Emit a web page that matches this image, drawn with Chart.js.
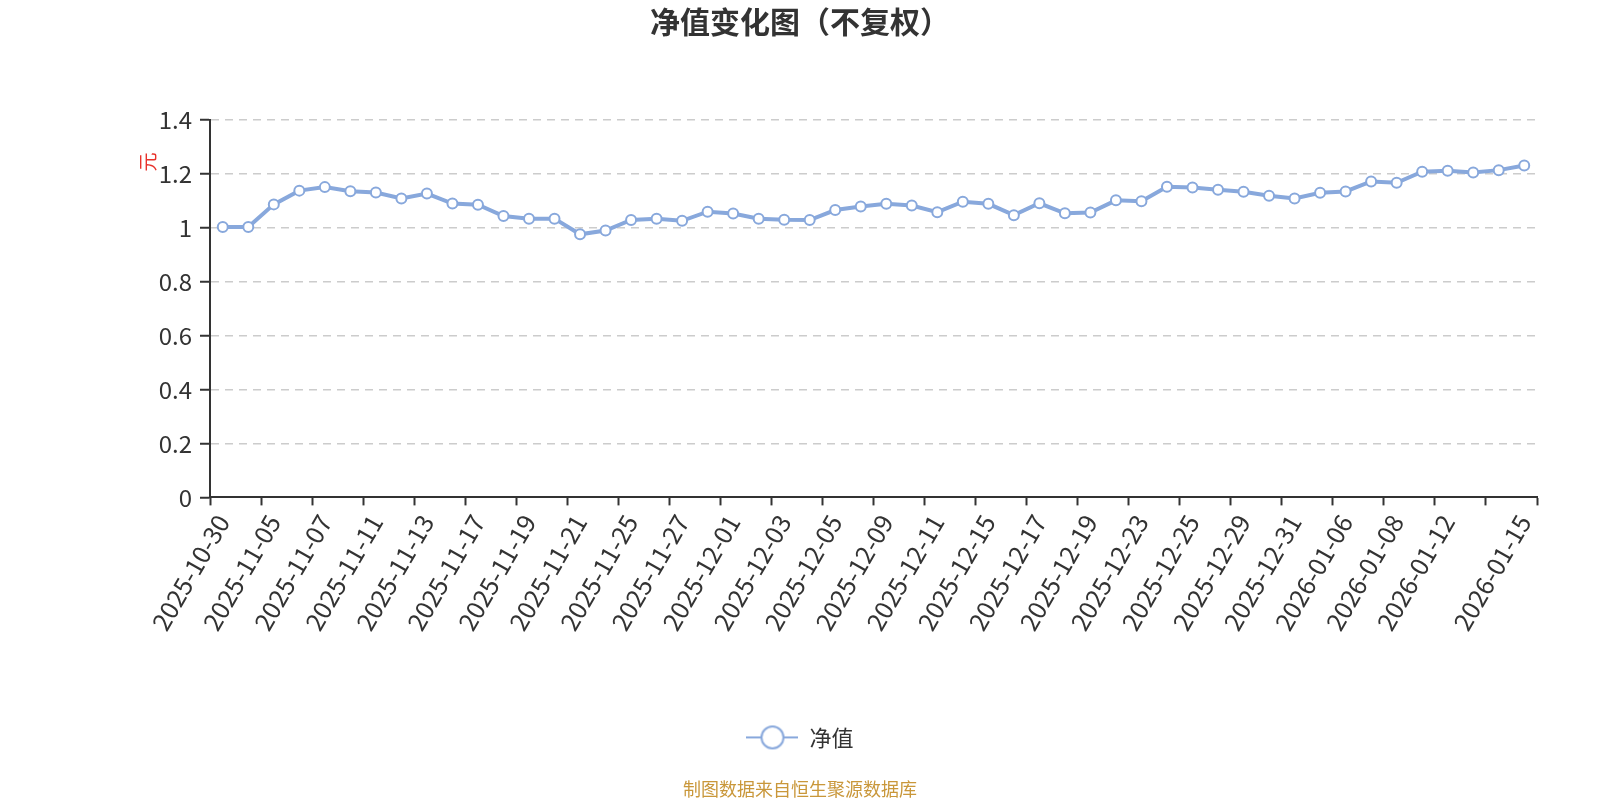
<!DOCTYPE html>
<html>
<head>
<meta charset="utf-8">
<script src="https://cdn.jsdelivr.net/npm/chart.js@4.4.1/dist/chart.umd.min.js"></script>
<style>
html, body { margin: 0; background: #fff; }
#wrap { width: 1600px; height: 800px; }
</style>
</head>
<body>
<div id="wrap"><canvas id="navChart"></canvas></div>
<script>
'use strict';

const dates = [
    '2025-10-30', '2025-10-31', '2025-11-05', '2025-11-06', '2025-11-07', '2025-11-10',
    '2025-11-11', '2025-11-12', '2025-11-13', '2025-11-14', '2025-11-17', '2025-11-18',
    '2025-11-19', '2025-11-20', '2025-11-21', '2025-11-24', '2025-11-25', '2025-11-26',
    '2025-11-27', '2025-11-28', '2025-12-01', '2025-12-02', '2025-12-03', '2025-12-04',
    '2025-12-05', '2025-12-08', '2025-12-09', '2025-12-10', '2025-12-11', '2025-12-12',
    '2025-12-15', '2025-12-16', '2025-12-17', '2025-12-18', '2025-12-19', '2025-12-22',
    '2025-12-23', '2025-12-24', '2025-12-25', '2025-12-26', '2025-12-29', '2025-12-30',
    '2025-12-31', '2026-01-05', '2026-01-06', '2026-01-07', '2026-01-08', '2026-01-09',
    '2026-01-12', '2026-01-13', '2026-01-14', '2026-01-15'
];
const navValues = [
    1.003, 1.003, 1.087, 1.138, 1.151, 1.136, 1.131, 1.109, 1.127, 1.090,
    1.086, 1.044, 1.034, 1.034, 0.976, 0.990, 1.029, 1.034, 1.026, 1.060,
    1.053, 1.034, 1.030, 1.029, 1.066, 1.079, 1.089, 1.083, 1.058, 1.097,
    1.089, 1.047, 1.091, 1.054, 1.057, 1.102, 1.099, 1.152, 1.150, 1.141,
    1.134, 1.119, 1.109, 1.130, 1.135, 1.172, 1.167, 1.208, 1.212, 1.205,
    1.214, 1.231
];
const yTickValues = [0, 0.2, 0.4, 0.6, 0.8, 1, 1.2, 1.4];
const seriesName = '净值';
const unitName = '元';
const titleText = '净值变化图（不复权）';
const sourceText = '制图数据来自恒生聚源数据库';

const lineColor = '#88a8dc';
const axisColor = '#333';

Chart.defaults.font.family = "'Noto Sans CJK SC', 'Noto Sans', sans-serif";

// legend icon: short line with a hollow circle, like the original
function legendIcon() {
    const c = document.createElement('canvas');
    c.width = 52;
    c.height = 28;
    const g = c.getContext('2d');
    g.strokeStyle = lineColor;
    g.lineWidth = 2;
    g.beginPath();
    g.moveTo(0, 14);
    g.lineTo(52, 14);
    g.stroke();
    g.beginPath();
    g.arc(26, 14, 11, 0, Math.PI * 2);
    g.fillStyle = '#fff';
    g.fill();
    g.stroke();
    return c;
}
const icon = legendIcon();

const unitLabel = {
    id: 'unitLabel',
    afterDraw(chart) {
        const {ctx, chartArea} = chart;
        ctx.save();
        ctx.translate(chartArea.left - 62, chartArea.top + 42);
        ctx.rotate(-Math.PI / 2);
        ctx.fillStyle = '#e8322b';
        ctx.font = "19px 'Noto Sans CJK SC'";
        ctx.textAlign = 'center';
        ctx.textBaseline = 'middle';
        ctx.fillText(unitName, 0, 0);
        ctx.restore();
    }
};

const last = dates.length - 1;

new Chart(document.querySelector('#navChart'), {
    type: 'line',
    data: {
        labels: dates,
        datasets: [
            {
                label: seriesName,
                data: navValues,
                borderColor: lineColor,
                borderWidth: 4,
                pointRadius: 5,
                pointBorderWidth: 2,
                pointBackgroundColor: '#fff',
                pointBorderColor: lineColor,
                tension: 0,
                fill: false
            }
        ]
    },
    plugins: [unitLabel],
    options: {
        responsive: true,
        maintainAspectRatio: false,
        animation: false,
        layout: {
            padding: 0
        },
        plugins: {
            title: {
                display: true,
                text: titleText,
                color: axisColor,
                font: {size: 30, weight: 'bold'},
                padding: {top: 4, bottom: 80}
            },
            subtitle: {
                display: true,
                position: 'bottom',
                text: sourceText,
                color: '#c9973a',
                font: {size: 18, weight: 'normal'},
                padding: {top: 20, bottom: 0}
            },
            legend: {
                position: 'bottom',
                labels: {
                    usePointStyle: true,
                    pointStyleWidth: 52,
                    color: axisColor,
                    font: {size: 22},
                    padding: 10,
                    generateLabels(chart) {
                        const items = Chart.defaults.plugins.legend.labels.generateLabels(chart);
                        items.forEach(it => { it.pointStyle = icon; });
                        return items;
                    }
                }
            },
            tooltip: {enabled: false}
        },
        scales: {
            x: {
                offset: true,
                grid: {
                    display: true,
                    offset: true,
                    drawOnChartArea: false,
                    drawTicks: true,
                    tickLength: 8,
                    tickWidth: 2,
                    tickColor: ctx => (ctx.index === undefined || ctx.index % 2 === 0) ? axisColor : 'rgba(0,0,0,0)'
                },
                border: {display: true, color: axisColor, width: 2},
                ticks: {
                    autoSkip: false,
                    maxRotation: 60,
                    minRotation: 60,
                    color: axisColor,
                    font: {size: 25},
                    padding: 4,
                    callback(value, i) {
                        if (i === last || (i % 2 === 0 && i < last - 1)) {
                            return dates[i];
                        }
                        return '';
                    }
                },
                afterFit(scale) {
                    scale.height = 219;
                }
            },
            y: {
                min: 0,
                max: 1.4,
                afterBuildTicks(scale) {
                    scale.ticks = yTickValues.map(v => ({value: v}));
                },
                grid: {
                    color: ctx => (ctx.tick && ctx.tick.value === 0) ? 'rgba(0,0,0,0)' : '#cccccc',
                    lineWidth: 1.5,
                    tickColor: axisColor,
                    tickLength: 10,
                    tickWidth: 2,
                    tickBorderDash: []
                },
                border: {display: true, color: axisColor, width: 2, dash: [8, 6]},
                ticks: {
                    color: axisColor,
                    font: {size: 24},
                    padding: 8,
                    callback: v => String(+Number(v).toFixed(1))
                },
                afterFit(scale) {
                    scale.width = 210;
                }
            },
            // empty right-hand axis that only reserves the right margin
            yRight: {
                position: 'right',
                display: true,
                grid: {display: false, drawTicks: false},
                border: {display: false},
                ticks: {display: false},
                afterFit(scale) {
                    scale.width = 63;
                }
            }
        }
    }
});
</script>
</body>
</html>
